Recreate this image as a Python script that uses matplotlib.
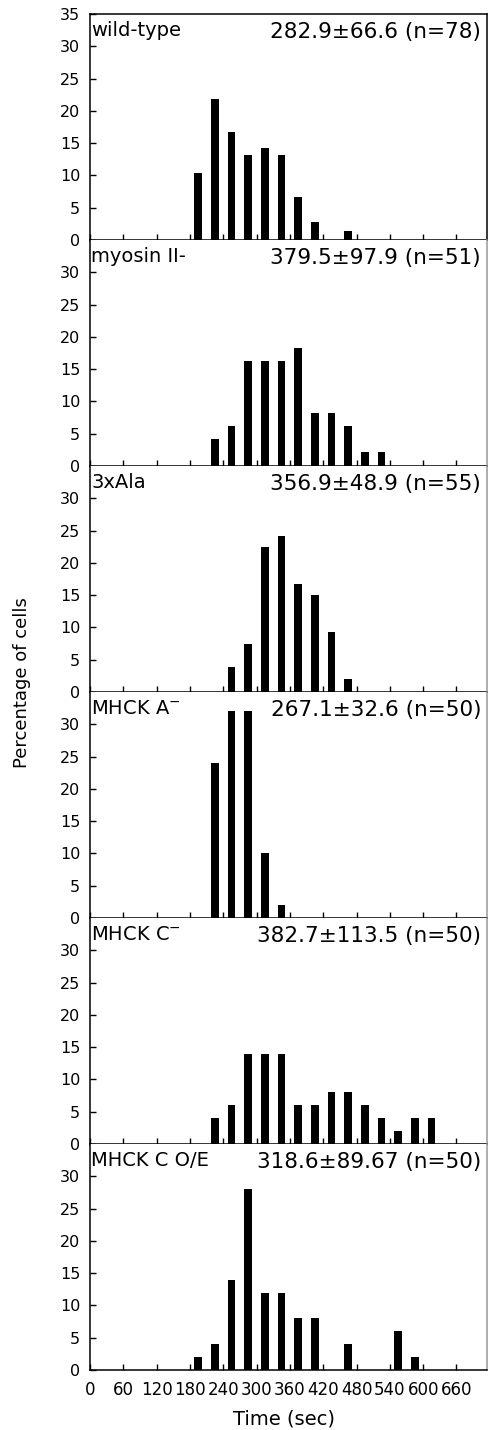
import matplotlib
matplotlib.use("Agg")
import matplotlib.pyplot as plt

# bin centres (sec), 30 s bins
wt_t = [195, 225, 255, 285, 315, 345, 375, 405, 465]
wt_p = [10.3, 21.9, 16.7, 13.1, 14.3, 13.1, 6.6, 2.8, 1.4]

myo_t = [225, 255, 285, 315, 345, 375, 405, 435, 465, 495, 525]
myo_p = [4.2, 6.2, 16.2, 16.2, 16.2, 18.2, 8.2, 8.2, 6.2, 2.1, 2.1]

ala_t = [255, 285, 315, 345, 375, 405, 435, 465]
ala_p = [3.8, 7.5, 22.4, 24.2, 16.8, 15.0, 9.3, 2.0]

mhcka_t = [225, 255, 285, 315, 345]
mhcka_p = [24, 32, 32, 10, 2]

mhckc_t = [225, 255, 285, 315, 345, 375, 405, 435, 465, 495, 525, 555, 585, 615]
mhckc_p = [4, 6, 14, 14, 14, 6, 6, 8, 8, 6, 4, 2, 4, 4]

oe_t = [195, 225, 255, 285, 315, 345, 375, 405, 465, 555, 585]
oe_p = [2, 4, 14, 28, 12, 12, 8, 8, 4, 6, 2]

names = ["wild-type", "myosin II-", "3xAla", "MHCK A$^{-}$", "MHCK C$^{-}$", "MHCK C O/E"]
stats = ["282.9\u00b166.6 (n=78)", "379.5\u00b197.9 (n=51)", "356.9\u00b148.9 (n=55)",
         "267.1\u00b132.6 (n=50)", "382.7\u00b1113.5 (n=50)", "318.6\u00b189.67 (n=50)"]
times = [wt_t, myo_t, ala_t, mhcka_t, mhckc_t, oe_t]
percs = [wt_p, myo_p, ala_p, mhcka_p, mhckc_p, oe_p]
xticks = [0, 60, 120, 180, 240, 300, 360, 420, 480, 540, 600, 660]

W, H = 489, 1430
fig = plt.figure(figsize=(W / 100, H / 100), dpi=100)

left = 90 / W
width = (487 - 90) / W
top_px = 14
ph = 226

for i in range(6):
    bottom = 1 - (top_px + (i + 1) * ph) / H
    ax = fig.add_axes([left, bottom, width, ph / H])
    ax.bar(times[i], percs[i], width=14, color="black")
    ax.set_xlim(0, 715)
    ax.set_ylim(0, 35)
    ax.set_xticks(xticks)
    if i == 0:
        ax.set_yticks([0, 5, 10, 15, 20, 25, 30, 35])
    else:
        ax.set_yticks([0, 5, 10, 15, 20, 25, 30])
        ax.spines["top"].set_visible(False)
    ax.tick_params(direction="in", length=4, width=1)
    ax.tick_params(axis="y", pad=7, labelsize=11.5)
    ax.tick_params(axis="x", pad=8, labelsize=12)
    if i < 5:
        ax.set_xticklabels([])
    for s in ax.spines.values():
        s.set_linewidth(1.1)
    ax.spines["right"].set_color("#999999" if i > 0 else "black")
    ax.text(0.003, 0.97, names[i], transform=ax.transAxes, ha="left", va="top", fontsize=14)
    ax.text(0.985, 0.965, stats[i], transform=ax.transAxes, ha="right", va="top", fontsize=15.5)

fig.text(22 / W, 1 - 683 / H, "Percentage of cells", rotation=90, ha="center", va="center", fontsize=13)
fig.text(284 / W, 1 - 1419 / H, "Time (sec)", ha="center", va="center", fontsize=14)

fig.savefig("out.png", dpi=100)
